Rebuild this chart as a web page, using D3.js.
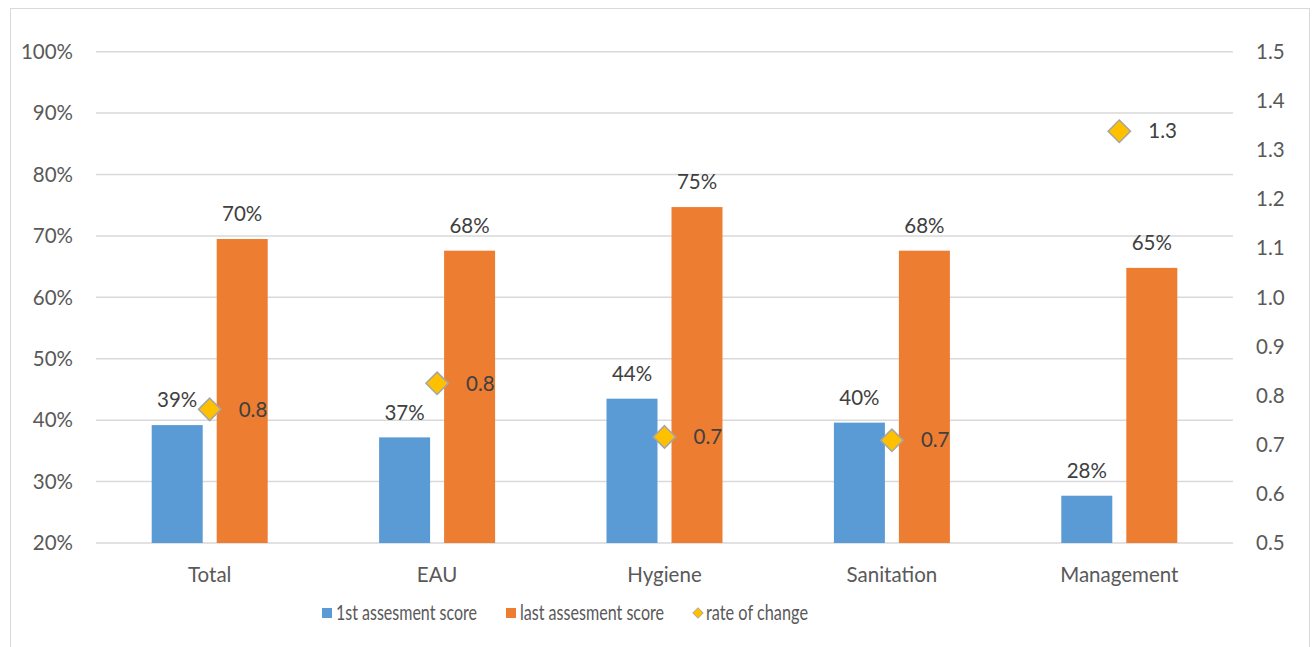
<!DOCTYPE html>
<html>
<head>
<meta charset="utf-8">
<script src="https://cdn.jsdelivr.net/npm/d3@7"></script>
<style>
  body { margin: 0; background: #fff; }
  svg text { font-family: Lato, "Open Sans", sans-serif; }
  .tick-label { fill: #595959; font-size: 20.5px; }
  .data-label { fill: #404040; font-size: 20.5px; }
  .legend-label { fill: #595959; font-size: 21px; }
</style>
</head>
<body>
<svg id="vis" width="1312" height="647"></svg>
<script>
var categories = ["Total", "EAU", "Hygiene", "Sanitation", "Management"];
var firstScore = [0.392, 0.372, 0.435, 0.396, 0.277];
var lastScore = [0.695, 0.676, 0.747, 0.676, 0.648];
var rateOfChange = [0.772, 0.825, 0.716, 0.709, 1.338];
var leftTicks = [0.2, 0.3, 0.4, 0.5, 0.6, 0.7, 0.8, 0.9, 1.0];
var rightTicks = [0.5, 0.6, 0.7, 0.8, 0.9, 1.0, 1.1, 1.2, 1.3, 1.4, 1.5];
var seriesNames = ["1st assesment score", "last assesment score", "rate of change"];

var BLUE = "#5B9BD5", ORANGE = "#ED7D31", GOLD = "#FFC000";

var svg = d3.select("#vis");

// frame
svg.append("rect")
   .attr("x", 10.5).attr("y", 8.5)
   .attr("width", 1299).attr("height", 660)
   .attr("fill", "none").attr("stroke", "#d9d9d9");

var x = d3.scaleBand().domain(categories).range([96, 1233]);
var yL = d3.scaleLinear().domain([0.2, 1.0]).range([543, 51.7]);
var yR = d3.scaleLinear().domain([0.5, 1.5]).range([543, 51.7]);

var barW = 51, gap = 14;

// gridlines
svg.selectAll("line.grid")
   .data(leftTicks)
   .enter()
   .append("line")
   .attr("class", "grid")
   .attr("x1", 96).attr("x2", 1233)
   .attr("y1", d => yL(d)).attr("y2", d => yL(d))
   .attr("stroke", "#d9d9d9").attr("stroke-width", 1.5);

// left axis labels
svg.selectAll("text.left")
   .data(leftTicks)
   .enter()
   .append("text")
   .attr("class", "tick-label left")
   .attr("x", 73)
   .attr("y", d => yL(d))
   .attr("dy", "0.35em")
   .attr("text-anchor", "end")
   .text(d => d3.format(".0%")(d));

// right axis labels
svg.selectAll("text.right")
   .data(rightTicks)
   .enter()
   .append("text")
   .attr("class", "tick-label right")
   .attr("x", 1256)
   .attr("y", d => yR(d))
   .attr("dy", "0.35em")
   .text(d => d3.format(".1f")(d));

// category labels
svg.selectAll("text.cat")
   .data(categories)
   .enter()
   .append("text")
   .attr("class", "tick-label cat")
   .attr("x", d => x(d) + x.bandwidth() / 2)
   .attr("y", 575)
   .attr("dy", "0.35em")
   .attr("text-anchor", "middle")
   .text(d => d);

// bars
function drawBars(values, color, offset) {
	var g = svg.append("g");
	g.selectAll("rect")
	 .data(values)
	 .enter()
	 .append("rect")
	 .attr("x", (d, i) => x(categories[i]) + x.bandwidth() / 2 + offset)
	 .attr("y", d => yL(d))
	 .attr("width", barW)
	 .attr("height", d => yL(0.2) - yL(d))
	 .attr("fill", color);
	g.selectAll("text")
	 .data(values)
	 .enter()
	 .append("text")
	 .attr("class", "data-label")
	 .attr("x", (d, i) => x(categories[i]) + x.bandwidth() / 2 + offset + barW / 2)
	 .attr("y", d => yL(d) - 25)
	 .attr("dy", "0.35em")
	 .attr("text-anchor", "middle")
	 .text(d => d3.format(".0%")(d));
}
drawBars(firstScore, BLUE, -gap / 2 - barW);
drawBars(lastScore, ORANGE, gap / 2);

// rate of change markers
var diamond = d3.symbol().type(d3.symbolDiamond2).size(320);
var mk = svg.append("g");
mk.selectAll("path")
  .data(rateOfChange)
  .enter()
  .append("path")
  .attr("d", diamond)
  .attr("transform", (d, i) => "translate(" + (x(categories[i]) + x.bandwidth() / 2) + "," + yR(d) + ")")
  .attr("fill", GOLD)
  .attr("stroke", "#a5a5a5")
  .attr("stroke-width", 1.5);
mk.selectAll("text")
  .data(rateOfChange)
  .enter()
  .append("text")
  .attr("class", "data-label")
  .attr("x", (d, i) => x(categories[i]) + x.bandwidth() / 2 + 29)
  .attr("y", d => yR(d))
  .attr("dy", "0.35em")
  .text(d => d3.format(".1f")(d));

// legend
var legend = svg.append("g");
var legendX = [322, 506, 692];
var legendW = [141, 144, 102];
seriesNames.forEach(function(name, i) {
	var lx = legendX[i];
	if (i < 2) {
		legend.append("rect")
		      .attr("x", lx).attr("y", 608)
		      .attr("width", 10).attr("height", 10)
		      .attr("fill", i == 0 ? BLUE : ORANGE);
	} else {
		legend.append("path")
		      .attr("d", d3.symbol().type(d3.symbolDiamond2).size(70))
		      .attr("transform", "translate(" + (lx + 6) + ",613)")
		      .attr("fill", GOLD)
		      .attr("stroke", "#a5a5a5");
	}
	legend.append("text")
	      .attr("class", "legend-label")
	      .attr("x", lx + 14)
	      .attr("y", 613)
	      .attr("dy", "0.35em")
	      .attr("textLength", legendW[i])
	      .attr("lengthAdjust", "spacingAndGlyphs")
	      .text(name);
});
</script>
</body>
</html>
